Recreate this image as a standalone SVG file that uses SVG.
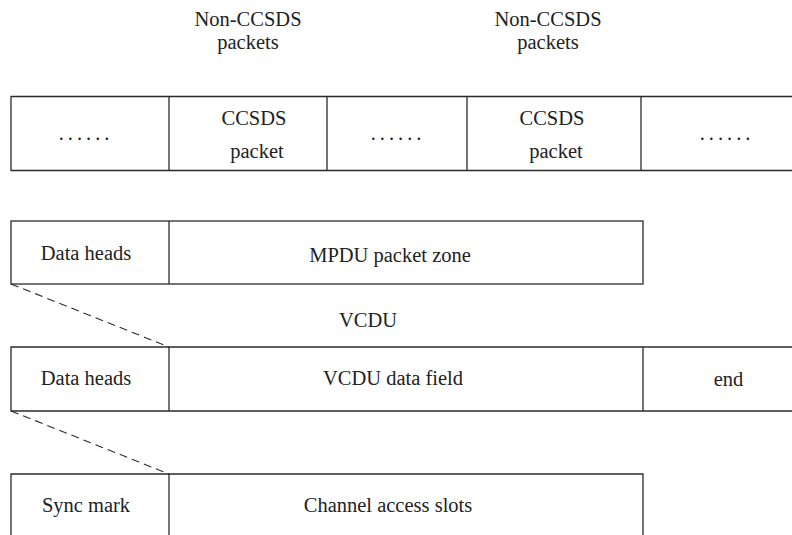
<svg xmlns="http://www.w3.org/2000/svg" width="792" height="535" viewBox="0 0 792 535">
<style>
  .box { fill: none; stroke: #2b2b2b; stroke-width: 1.3; }
  .dash { fill: none; stroke: #2b2b2b; stroke-width: 1.1; stroke-dasharray: 8 5; }
  .t { font-family: 'Liberation Serif', 'DejaVu Serif', 'Times New Roman', serif; font-size: 20.5px; fill: #222; text-anchor: middle; }
  .dots { letter-spacing: 4px; }
</style>
<rect width="792" height="535" fill="#fff"/>

<g font-family="Liberation Serif, DejaVu Serif, serif" font-size="20.5" text-anchor="middle" fill="#222">
<g id="labels-top">
  <text class="t" x="248" y="26">Non-CCSDS</text>
  <text class="t" x="248" y="49">packets</text>
  <text class="t" x="548" y="26">Non-CCSDS</text>
  <text class="t" x="548" y="49">packets</text>
</g>

<g id="packet-row">
  <path class="box" d="M792 96.5 H11 V170.5 H792 M169 96.5 V170.5 M327 96.5 V170.5 M467 96.5 V170.5 M641 96.5 V170.5"/>
  <text class="t dots" x="86" y="140">......</text>
  <text class="t" x="254" y="125">CCSDS</text>
  <text class="t" x="257" y="158">packet</text>
  <text class="t dots" x="398" y="140">......</text>
  <text class="t" x="552" y="125">CCSDS</text>
  <text class="t" x="556" y="158">packet</text>
  <text class="t dots" x="727" y="140">......</text>
</g>

<g id="mpdu-row">
  <rect class="box" x="11" y="221" width="632" height="63"/>
  <line class="box" x1="169" y1="221" x2="169" y2="284"/>
  <text class="t" x="86" y="260">Data heads</text>
  <text class="t" x="390" y="262">MPDU packet zone</text>
</g>

<g id="vcdu-label">
  <text class="t" x="368" y="327">VCDU</text>
</g>

<g id="vcdu-row">
  <path class="box" d="M792 347 H11 V411 H792 M169 347 V411 M643 347 V411"/>
  <text class="t" x="86" y="385">Data heads</text>
  <text class="t" x="393" y="385">VCDU data field</text>
  <text class="t" x="728.5" y="386">end</text>
</g>

<g id="cadu-row">
  <path class="box" d="M11 540 V474 H643 V540 M169 474 V540"/>
  <text class="t" x="86" y="512">Sync mark</text>
  <text class="t" x="388" y="512">Channel access slots</text>
</g>
</g>

<g id="connectors">
  <line class="dash" x1="11" y1="284" x2="169" y2="347"/>
  <line class="dash" x1="11" y1="411" x2="169" y2="474"/>
</g>
</svg>
